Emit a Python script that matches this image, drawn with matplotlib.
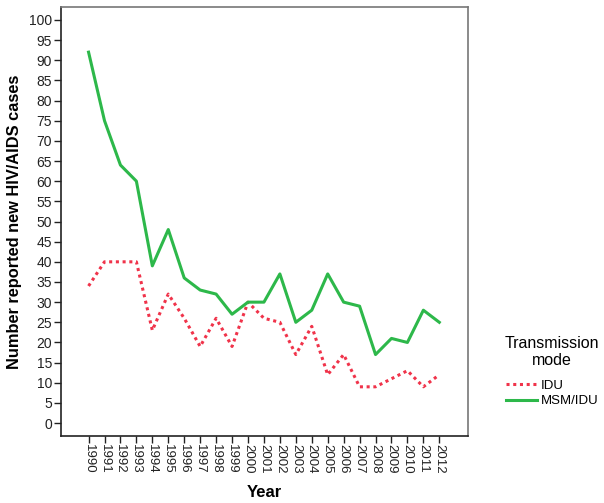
import matplotlib
matplotlib.use("Agg")
import matplotlib.pyplot as plt

years = list(range(1990, 2013))
year_labels = [str(y) for y in years]
idu = [34, 40, 40, 40, 23, 32, 26, 19, 26, 19, 30, 26, 25, 17, 24, 12, 17, 9, 9, 11, 13, 9, 12]
msm_idu = [92, 75, 64, 60, 39, 48, 36, 33, 32, 27, 30, 30, 37, 25, 28, 37, 30, 29, 17, 21, 20, 28, 25]
yticks = list(range(0, 101, 5))

plt.rcParams['font.family'] = ['Liberation Sans', 'DejaVu Sans']

fig = plt.figure(figsize=(6.04, 5.03), dpi=100)
ax = fig.add_axes([60.5 / 604, 1 - 436 / 503, (468 - 60.5) / 604, (436 - 7) / 503])

ax.plot(years, idu, color='#f0334a', linestyle=(0, (1, 1.2)), linewidth=2.2, label='IDU')
ax.plot(years, msm_idu, color='#2db84a', linestyle='-', linewidth=2.2, label='MSM/IDU')

ax.set_xlim(1988.24, 2013.8)
ax.set_ylim(-3.2, 103.2)
ax.set_xticks(years)
ax.set_xticklabels(year_labels, rotation=-90, fontsize=9.5, color='#222222')
ax.set_yticks(yticks)
ax.set_yticklabels([str(v) for v in yticks], fontsize=10, color='#222222')
ax.tick_params(axis='both', length=5, width=1, color='#222222', pad=1)

for s in ['left', 'bottom']:
    ax.spines[s].set_color('#222222')
    ax.spines[s].set_linewidth(1.2)
for s in ['top', 'right']:
    ax.spines[s].set_color('#777777')
    ax.spines[s].set_linewidth(1.2)

ax.set_xlabel('Year', fontsize=12, fontweight='bold', labelpad=8)
ax.set_ylabel('Number reported new HIV/AIDS cases', fontsize=11.8, fontweight='bold', labelpad=5)

leg = fig.legend(loc='upper left', bbox_to_anchor=(493 / 604, 1 - 324 / 503),
                 title='Transmission\nmode', frameon=False, fontsize=9.5,
                 title_fontsize=11.5, handlelength=2.4, handletextpad=0.3,
                 labelspacing=0.25)
leg.get_title().set_multialignment('center')
leg._legend_box.align = 'center'
leg._legend_box.sep = 8

fig.savefig('out.png', dpi=100)
